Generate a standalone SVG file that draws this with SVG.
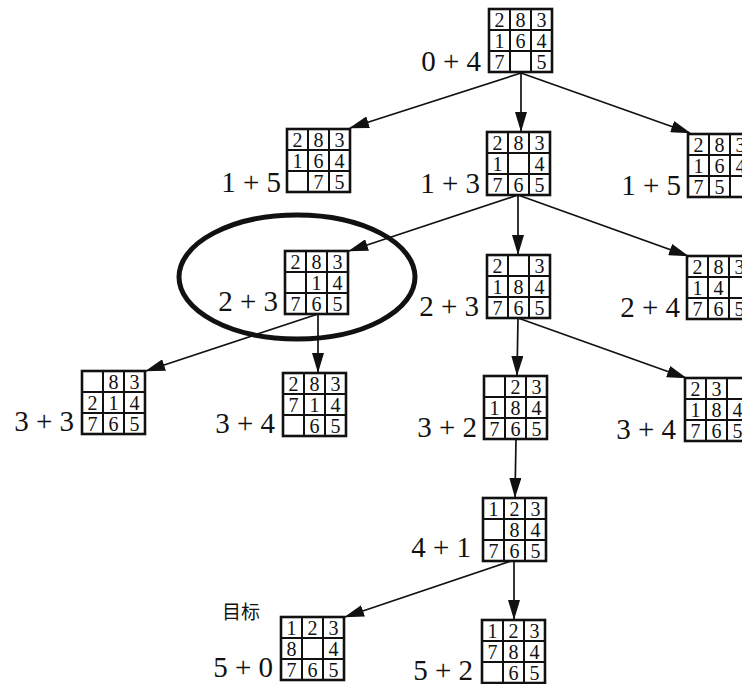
<svg xmlns="http://www.w3.org/2000/svg" width="742" height="684" viewBox="0 0 742 684">
<style>
.cell{font-family:"Liberation Serif","Times New Roman",serif;font-size:20px;text-anchor:middle;fill:#111}
.lbl{font-family:"Liberation Serif","Times New Roman",serif;font-size:29px;text-anchor:end;fill:#111}
.cjk{font-family:"Noto Sans CJK SC","Noto Sans",sans-serif;font-size:19px;fill:#111}
.grid{fill:#fff;stroke:#111;stroke-width:2.6}
.gl{stroke:#111;stroke-width:2}
.con line{stroke:#111;stroke-width:1.7;marker-end:url(#ah)}
</style>
<defs>
<marker id="ah" markerUnits="userSpaceOnUse" markerWidth="20" markerHeight="12" refX="19" refY="6" orient="auto">
<path d="M0,0 L20,6 L0,12 z" fill="#111"/>
</marker>
<g id="board">
<rect class="grid" x="0" y="0" width="63" height="63"/>
<line class="gl" x1="21" y1="0" x2="21" y2="63"/>
<line class="gl" x1="42" y1="0" x2="42" y2="63"/>
<line class="gl" x1="0" y1="21" x2="63" y2="21"/>
<line class="gl" x1="0" y1="42" x2="63" y2="42"/>
</g>
</defs>
<rect width="742" height="684" fill="#fff"/>

<g class="con">
<line x1="521" y1="73" x2="350" y2="128"/>
<line x1="521" y1="73" x2="521" y2="131"/>
<line x1="521" y1="73" x2="690" y2="133"/>
<line x1="518" y1="195" x2="349" y2="251"/>
<line x1="518" y1="195" x2="518" y2="254"/>
<line x1="518" y1="195" x2="688" y2="256"/>
<line x1="318" y1="314" x2="146" y2="371"/>
<line x1="318" y1="314" x2="318" y2="372"/>
<line x1="518" y1="318" x2="517" y2="375"/>
<line x1="518" y1="318" x2="686" y2="378"/>
<line x1="516" y1="439" x2="515" y2="497"/>
<line x1="514" y1="560" x2="345" y2="617"/>
<line x1="514" y1="560" x2="514" y2="619"/>
</g>

<ellipse cx="297" cy="277" rx="118" ry="62" fill="none" stroke="#111" stroke-width="5"/>

<g id="n0" transform="translate(489,9)">
<use href="#board"/>
<text class="cell" x="10.5" y="17.5">2</text><text class="cell" x="31.5" y="17.5">8</text><text class="cell" x="52.5" y="17.5">3</text>
<text class="cell" x="10.5" y="38.5">1</text><text class="cell" x="31.5" y="38.5">6</text><text class="cell" x="52.5" y="38.5">4</text>
<text class="cell" x="10.5" y="59.5">7</text><text class="cell" x="52.5" y="59.5">5</text>
</g>
<text class="lbl" x="481" y="71">0 + 4</text>

<g id="n1a" transform="translate(287,129)">
<use href="#board"/>
<text class="cell" x="10.5" y="17.5">2</text><text class="cell" x="31.5" y="17.5">8</text><text class="cell" x="52.5" y="17.5">3</text>
<text class="cell" x="10.5" y="38.5">1</text><text class="cell" x="31.5" y="38.5">6</text><text class="cell" x="52.5" y="38.5">4</text>
<text class="cell" x="31.5" y="59.5">7</text><text class="cell" x="52.5" y="59.5">5</text>
</g>
<text class="lbl" x="281" y="192">1 + 5</text>

<g id="n1b" transform="translate(487,132)">
<use href="#board"/>
<text class="cell" x="10.5" y="17.5">2</text><text class="cell" x="31.5" y="17.5">8</text><text class="cell" x="52.5" y="17.5">3</text>
<text class="cell" x="10.5" y="38.5">1</text><text class="cell" x="52.5" y="38.5">4</text>
<text class="cell" x="10.5" y="59.5">7</text><text class="cell" x="31.5" y="59.5">6</text><text class="cell" x="52.5" y="59.5">5</text>
</g>
<text class="lbl" x="480" y="193">1 + 3</text>

<g id="n1c" transform="translate(688,134)">
<use href="#board"/>
<text class="cell" x="10.5" y="17.5">2</text><text class="cell" x="31.5" y="17.5">8</text><text class="cell" x="52.5" y="17.5">3</text>
<text class="cell" x="10.5" y="38.5">1</text><text class="cell" x="31.5" y="38.5">6</text><text class="cell" x="52.5" y="38.5">4</text>
<text class="cell" x="10.5" y="59.5">7</text><text class="cell" x="31.5" y="59.5">5</text>
</g>
<text class="lbl" x="681" y="195">1 + 5</text>

<g id="n2a" transform="translate(285,251)">
<use href="#board"/>
<text class="cell" x="10.5" y="17.5">2</text><text class="cell" x="31.5" y="17.5">8</text><text class="cell" x="52.5" y="17.5">3</text>
<text class="cell" x="31.5" y="38.5">1</text><text class="cell" x="52.5" y="38.5">4</text>
<text class="cell" x="10.5" y="59.5">7</text><text class="cell" x="31.5" y="59.5">6</text><text class="cell" x="52.5" y="59.5">5</text>
</g>
<text class="lbl" x="278" y="311">2 + 3</text>

<g id="n2b" transform="translate(487,255)">
<use href="#board"/>
<text class="cell" x="10.5" y="17.5">2</text><text class="cell" x="52.5" y="17.5">3</text>
<text class="cell" x="10.5" y="38.5">1</text><text class="cell" x="31.5" y="38.5">8</text><text class="cell" x="52.5" y="38.5">4</text>
<text class="cell" x="10.5" y="59.5">7</text><text class="cell" x="31.5" y="59.5">6</text><text class="cell" x="52.5" y="59.5">5</text>
</g>
<text class="lbl" x="479" y="316">2 + 3</text>

<g id="n2c" transform="translate(687,256)">
<use href="#board"/>
<text class="cell" x="10.5" y="17.5">2</text><text class="cell" x="31.5" y="17.5">8</text><text class="cell" x="52.5" y="17.5">3</text>
<text class="cell" x="10.5" y="38.5">1</text><text class="cell" x="31.5" y="38.5">4</text>
<text class="cell" x="10.5" y="59.5">7</text><text class="cell" x="31.5" y="59.5">6</text><text class="cell" x="52.5" y="59.5">5</text>
</g>
<text class="lbl" x="680" y="317">2 + 4</text>

<g id="n3a" transform="translate(82,371)">
<use href="#board"/>
<text class="cell" x="31.5" y="17.5">8</text><text class="cell" x="52.5" y="17.5">3</text>
<text class="cell" x="10.5" y="38.5">2</text><text class="cell" x="31.5" y="38.5">1</text><text class="cell" x="52.5" y="38.5">4</text>
<text class="cell" x="10.5" y="59.5">7</text><text class="cell" x="31.5" y="59.5">6</text><text class="cell" x="52.5" y="59.5">5</text>
</g>
<text class="lbl" x="74" y="431">3 + 3</text>

<g id="n3b" transform="translate(283,373)">
<use href="#board"/>
<text class="cell" x="10.5" y="17.5">2</text><text class="cell" x="31.5" y="17.5">8</text><text class="cell" x="52.5" y="17.5">3</text>
<text class="cell" x="10.5" y="38.5">7</text><text class="cell" x="31.5" y="38.5">1</text><text class="cell" x="52.5" y="38.5">4</text>
<text class="cell" x="31.5" y="59.5">6</text><text class="cell" x="52.5" y="59.5">5</text>
</g>
<text class="lbl" x="275" y="433">3 + 4</text>

<g id="n3c" transform="translate(484,376)">
<use href="#board"/>
<text class="cell" x="31.5" y="17.5">2</text><text class="cell" x="52.5" y="17.5">3</text>
<text class="cell" x="10.5" y="38.5">1</text><text class="cell" x="31.5" y="38.5">8</text><text class="cell" x="52.5" y="38.5">4</text>
<text class="cell" x="10.5" y="59.5">7</text><text class="cell" x="31.5" y="59.5">6</text><text class="cell" x="52.5" y="59.5">5</text>
</g>
<text class="lbl" x="477" y="437">3 + 2</text>

<g id="n3d" transform="translate(685,378)">
<use href="#board"/>
<text class="cell" x="10.5" y="17.5">2</text><text class="cell" x="31.5" y="17.5">3</text>
<text class="cell" x="10.5" y="38.5">1</text><text class="cell" x="31.5" y="38.5">8</text><text class="cell" x="52.5" y="38.5">4</text>
<text class="cell" x="10.5" y="59.5">7</text><text class="cell" x="31.5" y="59.5">6</text><text class="cell" x="52.5" y="59.5">5</text>
</g>
<text class="lbl" x="676" y="439">3 + 4</text>

<g id="n4" transform="translate(483,498)">
<use href="#board"/>
<text class="cell" x="10.5" y="17.5">1</text><text class="cell" x="31.5" y="17.5">2</text><text class="cell" x="52.5" y="17.5">3</text>
<text class="cell" x="31.5" y="38.5">8</text><text class="cell" x="52.5" y="38.5">4</text>
<text class="cell" x="10.5" y="59.5">7</text><text class="cell" x="31.5" y="59.5">6</text><text class="cell" x="52.5" y="59.5">5</text>
</g>
<text class="lbl" x="471" y="557">4 + 1</text>

<g id="n5a" transform="translate(281,617)">
<use href="#board"/>
<text class="cell" x="10.5" y="17.5">1</text><text class="cell" x="31.5" y="17.5">2</text><text class="cell" x="52.5" y="17.5">3</text>
<text class="cell" x="10.5" y="38.5">8</text><text class="cell" x="52.5" y="38.5">4</text>
<text class="cell" x="10.5" y="59.5">7</text><text class="cell" x="31.5" y="59.5">6</text><text class="cell" x="52.5" y="59.5">5</text>
</g>
<text class="lbl" x="273" y="677">5 + 0</text>
<text class="cjk" x="222" y="619">目标</text>

<g id="n5b" transform="translate(482,620)">
<use href="#board"/>
<text class="cell" x="10.5" y="17.5">1</text><text class="cell" x="31.5" y="17.5">2</text><text class="cell" x="52.5" y="17.5">3</text>
<text class="cell" x="10.5" y="38.5">7</text><text class="cell" x="31.5" y="38.5">8</text><text class="cell" x="52.5" y="38.5">4</text>
<text class="cell" x="31.5" y="59.5">6</text><text class="cell" x="52.5" y="59.5">5</text>
</g>
<text class="lbl" x="473" y="680">5 + 2</text>
</svg>
